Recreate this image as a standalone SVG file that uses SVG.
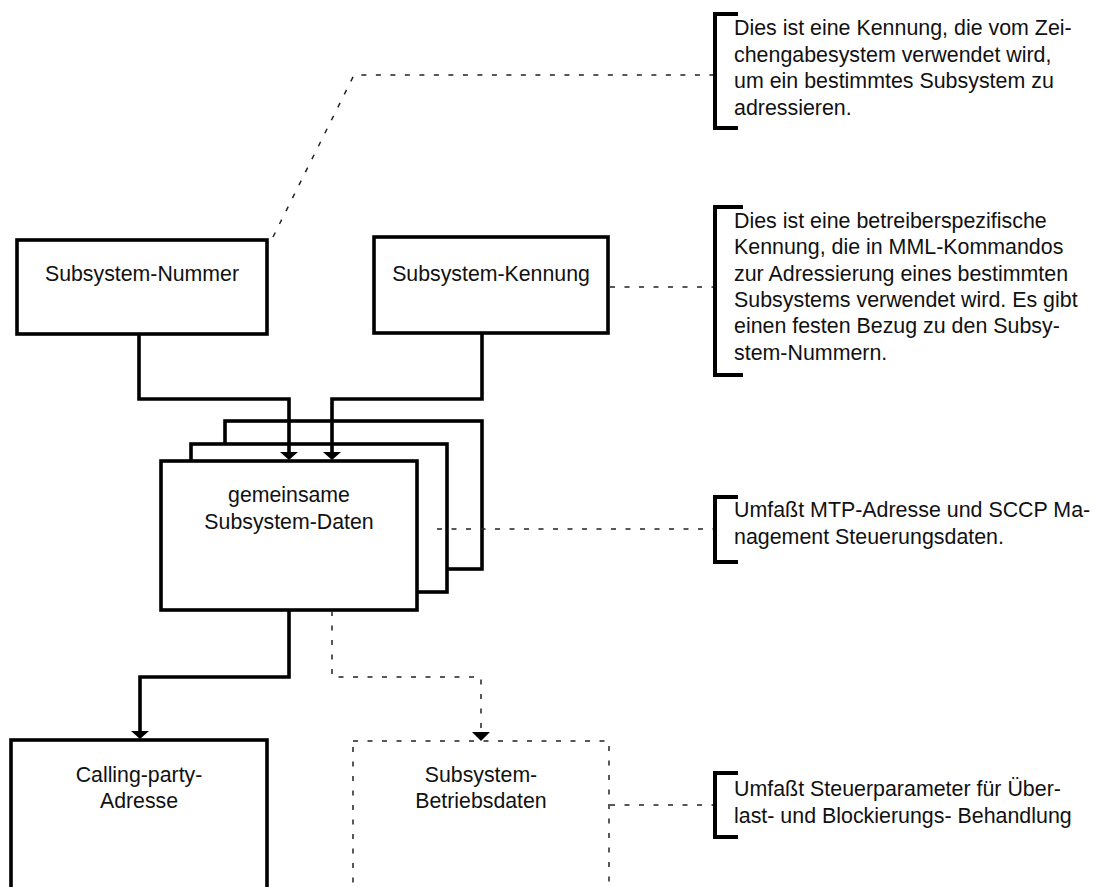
<svg xmlns="http://www.w3.org/2000/svg" width="1095" height="887" viewBox="0 0 1095 887">
  <defs>
    <style>
      .box { fill: #fff; stroke: #000; stroke-width: 3.6; }
      .dbox { fill: none; stroke: #222; stroke-width: 1.5; stroke-dasharray: 5 9.5; }
      .wire { fill: none; stroke: #000; stroke-width: 3.6; }
      .dwire { fill: none; stroke: #222; stroke-width: 1.5; stroke-dasharray: 5 9.5; }
      .bracket { fill: none; stroke: #000; stroke-width: 4; }
      .label { font-family: "Liberation Sans", Arial, sans-serif; font-size: 21.3px; fill: #111; text-anchor: middle; }
      .note { font-family: "Liberation Sans", Arial, sans-serif; font-size: 21.4px; fill: #111; }
    </style>
    <!-- filled triangular head; tip lies 8px beyond the end of the line -->
    <marker id="head" markerWidth="8" markerHeight="18" refX="0" refY="9" orient="auto" markerUnits="userSpaceOnUse" viewBox="0 0 8 18">
      <path d="M0,0 L8,9 L0,18 Z" fill="#000"/>
    </marker>
  </defs>

  <!-- nodes -->
  <g id="subsystem-nummer">
    <rect class="box" x="17" y="240" width="250" height="94"/>
    <text class="label" x="142" y="281">Subsystem-Nummer</text>
  </g>

  <g id="subsystem-kennung">
    <rect class="box" x="374" y="237" width="234" height="96"/>
    <text class="label" x="491" y="281">Subsystem-Kennung</text>
  </g>

  <g id="gemeinsame-daten">
    <!-- stacked sheets, back to front -->
    <rect class="box" x="225" y="421" width="257" height="148"/>
    <rect class="box" x="191" y="444" width="256" height="148"/>
    <rect class="box" x="161" y="461" width="256" height="149"/>
    <text class="label" x="289" y="502">gemeinsame</text>
    <text class="label" x="289" y="529">Subsystem-Daten</text>
  </g>

  <g id="calling-party-adresse">
    <rect class="box" x="11" y="740" width="256" height="170"/>
    <text class="label" x="139" y="782">Calling-party-</text>
    <text class="label" x="139" y="808">Adresse</text>
  </g>

  <g id="betriebsdaten">
    <rect class="dbox" x="353" y="741" width="256" height="170"/>
    <text class="label" x="481" y="782">Subsystem-</text>
    <text class="label" x="481" y="808">Betriebsdaten</text>
  </g>

  <g id="note-nummer">
    <path class="bracket" d="M738,14 L715,14 L715,128 L738,128"/>
    <text class="note" x="734" y="35">Dies ist eine Kennung, die vom Zei-</text>
    <text class="note" x="734" y="62">chengabesystem verwendet wird,</text>
    <text class="note" x="734" y="88">um ein bestimmtes Subsystem zu</text>
    <text class="note" x="734" y="115">adressieren.</text>
  </g>

  <g id="note-kennung">
    <path class="bracket" d="M743,207 L715,207 L715,375 L743,375"/>
    <text class="note" x="734" y="228">Dies ist eine betreiberspezifische</text>
    <text class="note" x="734" y="254">Kennung, die in MML-Kommandos</text>
    <text class="note" x="734" y="281">zur Adressierung eines bestimmten</text>
    <text class="note" x="734" y="307">Subsystems verwendet wird. Es gibt</text>
    <text class="note" x="734" y="333">einen festen Bezug zu den Subsy-</text>
    <text class="note" x="734" y="360">stem-Nummern.</text>
  </g>

  <g id="note-daten">
    <path class="bracket" d="M738,497 L715,497 L715,562 L738,562"/>
    <text class="note" x="734" y="517">Umfaßt MTP-Adresse und SCCP Ma-</text>
    <text class="note" x="734" y="544">nagement Steuerungsdaten.</text>
  </g>

  <g id="note-betrieb">
    <path class="bracket" d="M738,773 L715,773 L715,837 L738,837"/>
    <text class="note" x="734" y="796">Umfaßt Steuerparameter für Über-</text>
    <text class="note" x="734" y="823">last- und Blockierungs- Behandlung</text>
  </g>

  <!-- connectors -->
  <g id="connectors">
    <path class="wire" d="M139,334 L139,399 L289,399 L289,452" marker-end="url(#head)"/>
    <path class="wire" d="M482,333 L482,399 L332,399 L332,452" marker-end="url(#head)"/>
    <path class="wire" d="M289,610 L289,677 L140,677 L140,731" marker-end="url(#head)"/>
    <path class="dwire" d="M332,611 L332,677 L481,677 L481,732"/>
    <path d="M472,732 L490,732 L481,741 Z" fill="#000"/>
    <path class="dwire" d="M273,237 L354,75 L713,75"/>
    <path class="dwire" d="M610,287 L713,287"/>
    <path class="dwire" d="M437,529 L713,529"/>
    <path class="dwire" d="M610,805 L713,805"/>
  </g>
</svg>
